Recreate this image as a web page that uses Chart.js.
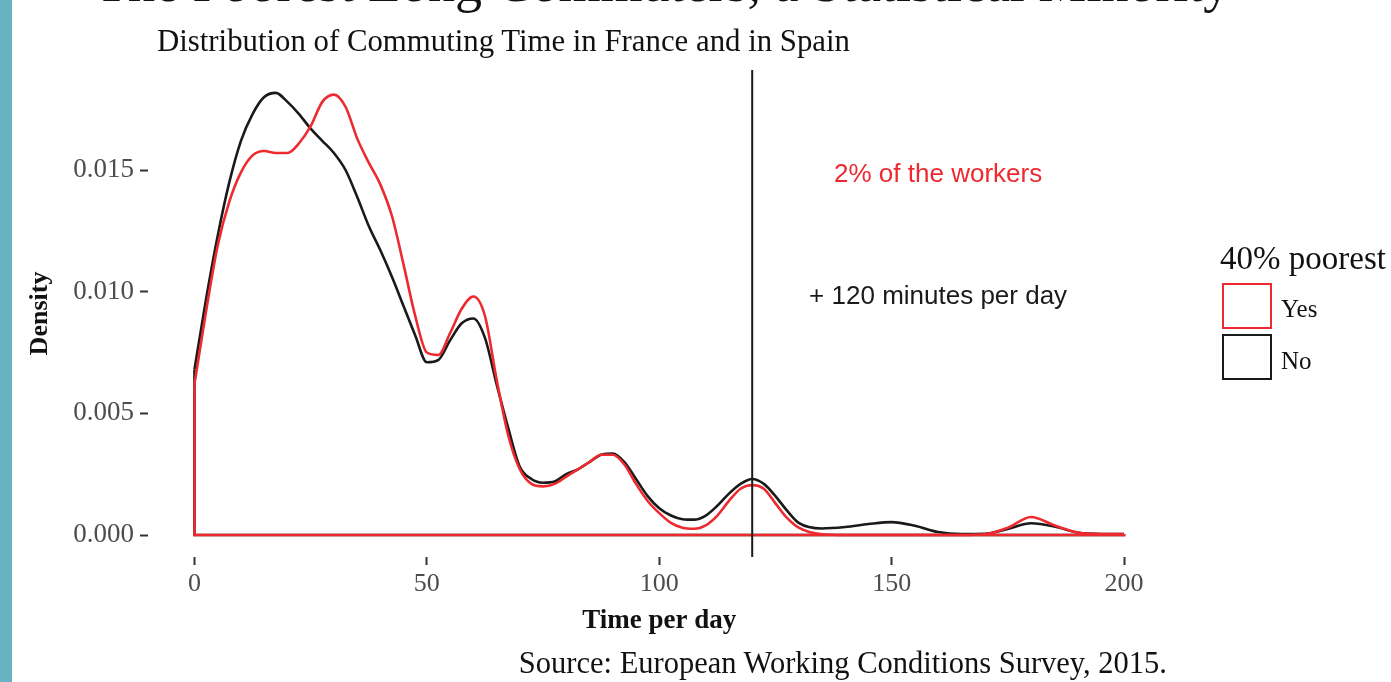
<!DOCTYPE html>
<html>
<head>
<meta charset="utf-8">
<script src="https://cdn.jsdelivr.net/npm/chart.js@4.4.1/dist/chart.umd.min.js"></script>
<style>
  body { margin: 0; background: #fff; overflow: hidden; }
  #wrap { position: relative; width: 1391px; height: 682px; }
  #wrap canvas { position: absolute; left: 0; top: 0; }
  .sidebar { position: absolute; left: 0; top: 0; width: 12px; height: 682px; background: #67b3c2; }
  .txt { position: absolute; font-family: "Liberation Serif", serif; line-height: 1; white-space: nowrap; color: #111; }
  .title { left: 95px; top: -44px; font-size: 54px; }
  .subtitle { left: 157px; top: 26px; font-size: 30.8px; }
  .source { right: 224px; top: 648px; font-size: 30.5px; }
  .legend-title { left: 1220px; top: 242px; font-size: 33px; }
  .key { position: absolute; left: 1222px; width: 46px; height: 42px; border: 2.5px solid; background: #fff; }
  .key-label { left: 1281px; font-size: 25px; }
</style>
</head>
<body>
<div id="wrap">
  <canvas id="densityChart" width="1391" height="682"></canvas>
  <div class="sidebar"></div>
  <div class="txt title">The Poorest Long Commuters, a Statistical Minority</div>
  <div class="txt subtitle">Distribution of Commuting Time in France and in Spain</div>
  <div class="txt source">Source: European Working Conditions Survey, 2015.</div>
  <div class="txt legend-title">40% poorest</div>
  <div class="key" style="top:283px;border-color:#ec2a2f"></div>
  <div class="txt key-label" style="top:296px">Yes</div>
  <div class="key" style="top:334px;border-color:#1a1a1a"></div>
  <div class="txt key-label" style="top:348px">No</div>
</div>
<script>
// minutes per day
const times = [0, 2.5, 5, 7.5, 10, 12.5, 15, 17.5, 20, 22.5,
  25, 27.5, 30, 32.5, 35, 37.5, 40, 42.5, 45, 47.5,
  50, 52.5, 55, 57.5, 60, 62.5, 65, 67.5, 70, 72.5,
  75, 77.5, 80, 82.5, 85, 87.5, 90, 92.5, 95, 97.5,
  100, 102.5, 105, 107.5, 110, 112.5, 115, 117.5, 120, 122.5,
  125, 127.5, 130,
  135, 140, 145, 150, 155, 160, 165, 170, 175, 180, 185, 190, 195, 200];

// density, 40% poorest = Yes
const poorYes = [0.0062, 0.0092, 0.0119, 0.0137, 0.0149, 0.0156, 0.01578, 0.0157, 0.0157, 0.0161,
  0.0168, 0.0178, 0.0181, 0.0176, 0.0163, 0.0153, 0.0144, 0.0131, 0.0111, 0.0090,
  0.0075, 0.0074, 0.0083, 0.0093, 0.0098, 0.0090, 0.0064, 0.0041, 0.0027, 0.0021,
  0.0020, 0.0021, 0.0024, 0.0027, 0.0030, 0.0033, 0.0033, 0.0029, 0.0021, 0.0014,
  0.0009, 0.0005, 0.0003, 0.00026, 0.0004, 0.0008, 0.0014, 0.0019, 0.00205, 0.0019,
  0.0013, 0.0007, 0.0003,
  0.00003, 0, 0, 0, 0, 0, 0, 0.00003, 0.0003, 0.00074, 0.0004, 0.0001, 0.00004, 0.00004];

// density, 40% poorest = No
const poorNo = [0.0068, 0.0097, 0.0123, 0.0145, 0.0162, 0.0173, 0.0180, 0.01817, 0.0178, 0.0173,
  0.0167, 0.0162, 0.0157, 0.0150, 0.0139, 0.0127, 0.0117, 0.0106, 0.0094, 0.0082,
  0.0071, 0.0072, 0.0080, 0.0087, 0.0089, 0.0081, 0.0062, 0.0044, 0.0028, 0.0023,
  0.00215, 0.0022, 0.0025, 0.0027, 0.0030, 0.0033, 0.00335, 0.0030, 0.0023, 0.0016,
  0.0011, 0.0008, 0.00065, 0.00063, 0.0008, 0.0012, 0.0017, 0.0021, 0.0023, 0.0021,
  0.0016, 0.0010, 0.0005,
  0.00027, 0.00033, 0.00045, 0.00053, 0.00038, 0.00012, 0.00004, 0.00005, 0.00025, 0.00048, 0.00035, 0.0001, 0.00004, 0.00004];

const xTicks = [0, 50, 100, 150, 200];
const yTicks = [0, 0.005, 0.010, 0.015];
const cutoff = 120;
const noteTexts = ["2% of the workers", "+ 120 minutes per day"];
const noteX = 160;
const noteY = [0.015, 0.010];

const RED = "#ec2a2f";
const BLACK = "#1a1a1a";

function curve(vals) {
  return times.map((t, i) => ({ x: t, y: vals[i] }));
}
// closing edges of the density polygon (left side, baseline, right side)
function edges(vals) {
  const last = times.length - 1;
  return [
    { x: times[0], y: vals[0] },
    { x: times[0], y: 0 },
    { x: times[last], y: 0 },
    { x: times[last], y: vals[last] }
  ];
}

const lineStyle = { borderWidth: 2.6, pointRadius: 0, fill: false };

const annotate = {
  id: "annotate",
  afterDatasetsDraw(chart) {
    const c = chart.ctx;
    const xs = chart.scales.x, ys = chart.scales.y, area = chart.chartArea;
    c.save();
    // vertical line at 120 minutes
    const px = xs.getPixelForValue(cutoff);
    c.strokeStyle = BLACK;
    c.lineWidth = 2;
    c.beginPath();
    c.moveTo(px, area.top);
    c.lineTo(px, area.bottom);
    c.stroke();
    c.font = '26px "Liberation Sans", Arial, sans-serif';
    c.textAlign = "center";
    c.textBaseline = "middle";
    c.fillStyle = RED;
    c.fillText(noteTexts[0], xs.getPixelForValue(noteX), ys.getPixelForValue(noteY[0]) + 5);
    c.fillStyle = BLACK;
    c.fillText(noteTexts[1], xs.getPixelForValue(noteX), ys.getPixelForValue(noteY[1]) + 5);
    c.restore();
  }
};

new Chart(document.getElementById("densityChart"), {
  type: "line",
  data: {
    datasets: [
      { label: "Yes", data: curve(poorYes), borderColor: RED, tension: 0.4, cubicInterpolationMode: "monotone", ...lineStyle },
      { label: "Yes edge", data: edges(poorYes), borderColor: RED, tension: 0, ...lineStyle },
      { label: "No", data: curve(poorNo), borderColor: BLACK, tension: 0.4, cubicInterpolationMode: "monotone", ...lineStyle },
      { label: "No edge", data: edges(poorNo), borderColor: BLACK, tension: 0, ...lineStyle }
    ]
  },
  options: {
    responsive: false,
    animation: false,
    layout: { padding: { left: 0, right: 220.5, top: 70, bottom: 40 } },
    plugins: { legend: { display: false }, tooltip: { enabled: false } },
    scales: {
      x: {
        type: "linear",
        min: -10,
        max: 210,
        afterFit: (s) => { s.height = 85; },
        afterBuildTicks: (s) => { s.ticks = xTicks.map(v => ({ value: v })); },
        grid: { drawOnChartArea: false, drawTicks: true, tickLength: 8, tickColor: "#333", tickWidth: 2 },
        border: { display: false },
        ticks: { color: "#4d4d4d", padding: 4, font: { family: "Liberation Serif", size: 26 }, maxRotation: 0 },
        title: { display: true, text: "Time per day", color: "#111", padding: { top: 0, bottom: 5 },
          font: { family: "Liberation Serif", size: 27, weight: "bold" } }
      },
      y: {
        type: "linear",
        min: -0.000904,
        max: 0.01911,
        afterFit: (s) => { s.width = 148; },
        afterBuildTicks: (s) => { s.ticks = yTicks.map(v => ({ value: v })); },
        grid: { drawOnChartArea: false, drawTicks: true, tickLength: 8, tickColor: "#333", tickWidth: 2 },
        border: { display: false },
        ticks: { color: "#4d4d4d", padding: 6, font: { family: "Liberation Serif", size: 27 },
          callback: (v) => v.toFixed(3) },
        title: { display: true, text: "Density", color: "#111", padding: { top: 25, bottom: 0 },
          font: { family: "Liberation Serif", size: 26, weight: "bold" } }
      }
    }
  },
  plugins: [annotate]
});
</script>
</body>
</html>
